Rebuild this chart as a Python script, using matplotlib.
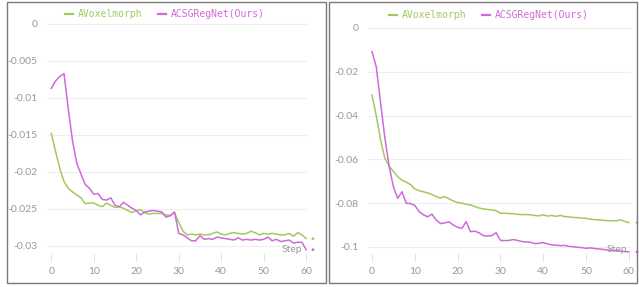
import matplotlib

matplotlib.use("Agg")
import matplotlib.pyplot as plt
from matplotlib.patches import Rectangle

plt.rcParams["axes.unicode_minus"] = False

steps = list(range(61))

# left panel
left_avox = [
    -0.0148, -0.0172, -0.0195, -0.0213, -0.0222, -0.0227, -0.0231, -0.0235, -0.0243, -0.0242,
    -0.0242, -0.0245, -0.0247, -0.0242, -0.0245, -0.0248, -0.0247, -0.0249, -0.0252, -0.0255,
    -0.0252, -0.0251, -0.0255, -0.0257, -0.0256, -0.0256, -0.0256, -0.0258, -0.0259, -0.0255,
    -0.0268, -0.0280, -0.0285, -0.0284, -0.0285, -0.0284, -0.0285, -0.0285, -0.0283, -0.0281,
    -0.0284, -0.0285, -0.0283, -0.0282, -0.0283, -0.0284, -0.0283, -0.0280, -0.0282, -0.0285,
    -0.0283, -0.0284, -0.0283, -0.0284, -0.0285, -0.0285, -0.0283, -0.0287, -0.0282, -0.0285,
    -0.0290,
]
left_acsg = [
    -0.0087, -0.0077, -0.0071, -0.0067, -0.0115, -0.0158, -0.0188, -0.0203, -0.0217, -0.0222,
    -0.0230, -0.0229, -0.0237, -0.0238, -0.0235, -0.0245, -0.0247, -0.0241, -0.0245, -0.0249,
    -0.0252, -0.0258, -0.0254, -0.0253, -0.0252, -0.0253, -0.0254, -0.0261, -0.0259, -0.0254,
    -0.0283, -0.0285, -0.0289, -0.0293, -0.0293, -0.0286, -0.0291, -0.0290, -0.0291, -0.0288,
    -0.0289, -0.0290, -0.0291, -0.0292, -0.0289, -0.0292, -0.0291, -0.0292, -0.0291, -0.0292,
    -0.0291, -0.0288, -0.0293, -0.0291, -0.0294, -0.0293, -0.0292, -0.0296, -0.0295, -0.0295,
    -0.0305,
]
left_yticks = [0, -0.005, -0.01, -0.015, -0.02, -0.025, -0.03]
left_ylabels = ["0", "-0.005", "-0.01", "-0.015", "-0.02", "-0.025", "-0.03"]

# right panel
right_avox = [
    -0.0306, -0.0400, -0.0510, -0.0595, -0.0630, -0.0655, -0.0679, -0.0695, -0.0704, -0.0715,
    -0.0735, -0.0743, -0.0748, -0.0753, -0.0760, -0.0770, -0.0776, -0.0770, -0.0780, -0.0790,
    -0.0797, -0.0800, -0.0805, -0.0808, -0.0815, -0.0822, -0.0826, -0.0829, -0.0831, -0.0834,
    -0.0846, -0.0846, -0.0847, -0.0848, -0.0851, -0.0852, -0.0852, -0.0853, -0.0856, -0.0858,
    -0.0853, -0.0859, -0.0856, -0.0860, -0.0856, -0.0861, -0.0863, -0.0865, -0.0866, -0.0868,
    -0.0869, -0.0873, -0.0875, -0.0876, -0.0878, -0.0880, -0.0880, -0.0881, -0.0876, -0.0883,
    -0.0889,
]
right_acsg = [
    -0.0108, -0.0177, -0.0340, -0.0500, -0.0630, -0.0725, -0.0778, -0.0748, -0.0800, -0.0802,
    -0.0810, -0.0838, -0.0853, -0.0862, -0.0850, -0.0877, -0.0893, -0.0890, -0.0885, -0.0900,
    -0.0910, -0.0915, -0.0884, -0.0930, -0.0928, -0.0935, -0.0948, -0.0950, -0.0948, -0.0935,
    -0.0970, -0.0971, -0.0970, -0.0966, -0.0970, -0.0975, -0.0977, -0.0978, -0.0985, -0.0983,
    -0.0980, -0.0986, -0.0990, -0.0992, -0.0994, -0.0993, -0.0997, -0.0999, -0.1001, -0.1003,
    -0.1006, -0.1004, -0.1007, -0.1009, -0.1011, -0.1014, -0.1015, -0.1017, -0.1019, -0.1021,
    -0.1022,
]
right_yticks = [0, -0.02, -0.04, -0.06, -0.08, -0.1]
right_ylabels = ["0", "-0.02", "-0.04", "-0.06", "-0.08", "-0.1"]

xticks = [0, 10, 20, 30, 40, 50, 60]
labels = ["AVoxelmorph", "ACSGRegNet(Ours)"]
GREEN, MAGENTA = "#a3c95e", "#cf6ad9"
TXT = "#999999"

W, H = 639, 287
fig = plt.figure(figsize=(W / 100, H / 100), dpi=100)


def px_axes(x0, y0, x1, y1):
    # pixel box (top-left origin) -> figure axes
    return fig.add_axes([x0 / W, 1 - y1 / H, (x1 - x0) / W, (y1 - y0) / H])


def panel(ax, avox, acsg, yticks, ylabels, xlim, ylim, dot_x, leg_xy, step_x):
    ax.plot(steps, avox, color=GREEN, lw=1.1, label=labels[0])
    ax.plot(steps, acsg, color=MAGENTA, lw=1.1, label=labels[1])
    ax.scatter([dot_x, dot_x], [avox[-1], acsg[-1]], s=4, c=[GREEN, MAGENTA],
               clip_on=False, zorder=3, linewidths=0)
    ax.set_xlim(*xlim)
    ax.set_ylim(*ylim)
    ax.set_yticks(yticks)
    ax.set_yticklabels(ylabels)
    ax.set_xticks(xticks)
    for s in ax.spines.values():
        s.set_visible(False)
    ax.grid(axis="y", color="#eeeeee", lw=0.8)
    ax.tick_params(axis="y", length=0, pad=7, labelsize=7.5, labelcolor=TXT)
    ax.tick_params(axis="x", direction="in", length=6, width=0.6, color="#dddddd",
                   pad=4, labelsize=7.5, labelcolor=TXT)
    for t in ax.get_xticklabels() + ax.get_yticklabels():
        t.set_family("Lato")
    ax.text(step_x / W, 1 - 250 / H, "Step", transform=fig.transFigure, ha="right",
            va="center", fontsize=7.5, color=TXT, family="Lato")
    leg = ax.legend(loc="center", bbox_to_anchor=(leg_xy[0] / W, 1 - leg_xy[1] / H),
                    bbox_transform=fig.transFigure, ncol=2, frameon=False,
                    handlelength=0.8, handletextpad=0.5, columnspacing=1.6,
                    labelcolor="linecolor",
                    prop={"family": "DejaVu Sans Mono", "size": 7})
    for h in leg.legend_handles:
        h.set_linewidth(1.6)


ax1 = px_axes(47, 18, 307, 261)
panel(ax1, left_avox, left_acsg, left_yticks, left_ylabels,
      (-1.01, 60.2), (-0.03203, 0.00081), 61.6, (165, 14), 302)

ax2 = px_axes(368, 20, 631, 261)
panel(ax2, right_avox, right_acsg, right_yticks, right_ylabels,
      (-0.93, 60.5), (-0.1064, 0.00365), 61.9, (489, 15.5), 627)

# panel frames
for x0, x1 in [(7, 326), (329, 637)]:
    fig.patches.append(Rectangle((x0 / W, 1 - 283 / H), (x1 - x0) / W, 281 / H,
                                 transform=fig.transFigure, fill=False,
                                 edgecolor="#7a7a7a", lw=1.0))

fig.savefig("out.png", dpi=100)
